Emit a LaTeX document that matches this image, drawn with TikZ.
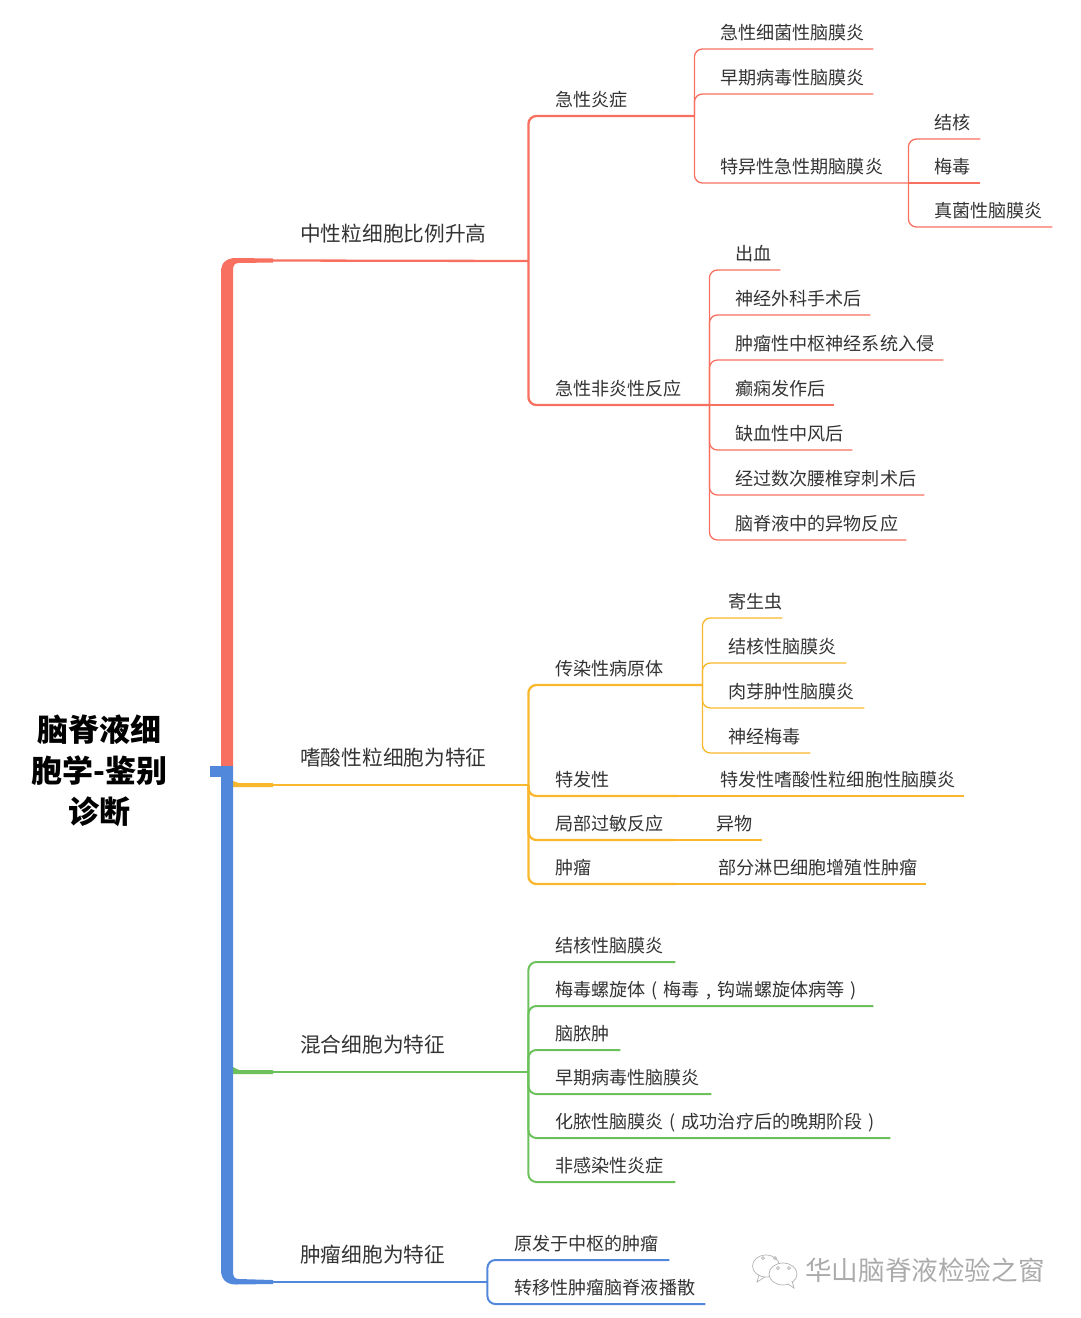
\documentclass[tikz,border=0pt]{standalone}
\usepackage{fontspec}
\setmainfont{Noto Sans CJK SC}
\definecolor{ink}{HTML}{333333}
\definecolor{redbr}{HTML}{F8705F}
\definecolor{orangebr}{HTML}{F9B72E}
\definecolor{greenbr}{HTML}{6CC15C}
\definecolor{bluebr}{HTML}{5288DC}
\newcommand{\wide}[1]{\makebox[18pt]{#1}}
\tikzset{
  leaf/.style={anchor=south west,inner xsep=0pt,inner ysep=5pt,text height=14pt,text depth=4pt,text=ink,font=\fontsize{18.1}{18}\selectfont},
  head/.style={anchor=south west,inner xsep=0pt,inner ysep=14pt,text height=18pt,text depth=5pt,text=ink,font=\fontsize{20.7}{21}\selectfont},
  redline/.style={draw=redbr,line width=1.3pt,rounded corners=8pt},
  orangeline/.style={draw=orangebr,line width=1.3pt,rounded corners=8pt},
  greenline/.style={draw=greenbr,line width=2pt,rounded corners=8pt},
  blueline/.style={draw=bluebr,line width=2pt,rounded corners=8pt},
  midline/.style={line width=2.3pt},
}
\begin{document}
\begin{tikzpicture}[x=1pt,y=-1pt]
\useasboundingbox (0,0) rectangle (1080,1318);
\draw (99.5,771) node[text=black,align=center,font=\fontsize{31}{41}\selectfont\bfseries] (root) {脑脊液细\\胞学-鉴别\\诊断};

\coordinate (redtip) at (273,260.5);
\coordinate (orangetip) at (273,785);
\coordinate (greentip) at (273,1072);
\coordinate (bluetip) at (273,1282);
\draw (300,261) node[head,text width=228pt] (neut) {中性粒细胞比例升高};
\draw (300,785) node[head,text width=228pt] (eos) {嗜酸性粒细胞为特征};
\draw (300,1072) node[head,text width=228pt] (mixed) {混合细胞为特征};
\draw (300,1282) node[head,text width=187pt] (tumor) {肿瘤细胞为特征};

\fill[orangebr] (233,781) -- (239,783) -- (273,783) -- (273,787) -- (233,787) -- cycle;
\fill[greenbr] (233,1067) -- (239,1070) -- (273,1070) -- (273,1074) -- (233,1074) -- cycle;
\fill[redbr] (221,771) -- (221,272) .. controls (221,263) and (226,258) .. (236,258) -- (273,258.5) -- (273,262.5) -- (239,263) .. controls (235,263) and (233,265) .. (233,270) -- (233,771) -- cycle;
\fill[bluebr] (221,771) -- (221,1270) .. controls (221,1279) and (226,1284.5) .. (236,1284.5) -- (273,1284) -- (273,1280) -- (239,1279) .. controls (235,1279) and (233,1277) .. (233,1272) -- (233,771) -- cycle;
\fill[bluebr] (209.5,766) rectangle (233,777);

\draw (555,116) node[leaf,text width=139pt] (acute) {急性炎症};
\draw (555,405) node[leaf,text width=154pt] (nonacute) {急性非炎性反应};
\draw[redline,midline] (redtip) -- (neut.south east);
\draw[redline,midline] (neut.south east) |- (acute.south east);
\draw[redline,midline] (neut.south east) |- (nonacute.south east);

\draw (720,49) node[leaf,text width=153pt] (bact) {急性细菌性脑膜炎};
\draw (720,94) node[leaf,text width=153pt] (viral) {早期病毒性脑膜炎};
\draw (720,183) node[leaf,text width=188pt] (spec) {特异性急性期脑膜炎};
\draw[redline] (acute.south east) |- (bact.south east);
\draw[redline] (acute.south east) |- (viral.south east);
\draw[redline] (acute.south east) |- (spec.south east);

\draw (934,139) node[leaf,text width=46pt] (tb) {结核};
\draw (934,183) node[leaf,text width=46pt] (syph) {梅毒};
\draw (934,227) node[leaf,text width=118pt] (fungal) {真菌性脑膜炎};
\draw[redline] (spec.south east) |- (tb.south east);
\draw[redline] (spec.south east) -- (syph.south east);
\draw[redline] (spec.south east) |- (fungal.south east);

\draw (735,270) node[leaf,text width=45pt] (bleed) {出血};
\draw (735,315) node[leaf,text width=135pt] (surg) {神经外科手术后};
\draw (735,360) node[leaf,text width=208pt] (invade) {肿瘤性中枢神经系统入侵};
\draw (735,405) node[leaf,text width=99pt] (epil) {癫痫发作后};
\draw (735,450) node[leaf,text width=117pt] (stroke) {缺血性中风后};
\draw (735,495) node[leaf,text width=189pt] (lumb) {经过数次腰椎穿刺术后};
\draw (735,540) node[leaf,text width=171pt] (foreign) {脑脊液中的异物反应};
\draw[redline] (nonacute.south east) |- (bleed.south east);
\draw[redline] (nonacute.south east) |- (surg.south east);
\draw[redline] (nonacute.south east) |- (invade.south east);
\draw[redline] (nonacute.south east) -- (epil.south east);
\draw[redline] (nonacute.south east) |- (stroke.south east);
\draw[redline] (nonacute.south east) |- (lumb.south east);
\draw[redline] (nonacute.south east) |- (foreign.south east);

\draw (555,685) node[leaf,text width=147pt] (pathogen) {传染性病原体};
\draw (555,796) node[leaf,text width=123pt] (idio) {特发性};
\draw (555,840) node[leaf,text width=119pt] (allergy) {局部过敏反应};
\draw (555,884) node[leaf,text width=121pt] (tumo) {肿瘤};
\draw[orangeline,midline] (orangetip) -- (eos.south east);
\draw[orangeline,midline] (eos.south east) |- (pathogen.south east);
\draw[orangeline,midline] (eos.south east) |- (idio.south east);
\draw[orangeline,midline] (eos.south east) |- (allergy.south east);
\draw[orangeline,midline] (eos.south east) |- (tumo.south east);

\draw (728,618) node[leaf,text width=54pt] (parasite) {寄生虫};
\draw (728,663) node[leaf,text width=118pt] (tbm) {结核性脑膜炎};
\draw (728,708) node[leaf,text width=136pt] (granul) {肉芽肿性脑膜炎};
\draw (728,753) node[leaf,text width=82pt] (neuro) {神经梅毒};
\draw[orangeline] (pathogen.south east) |- (parasite.south east);
\draw[orangeline] (pathogen.south east) |- (tbm.south east);
\draw[orangeline] (pathogen.south east) |- (granul.south east);
\draw[orangeline] (pathogen.south east) |- (neuro.south east);

\draw (720,796) node[leaf,text width=244pt] (idiom) {特发性嗜酸性粒细胞性脑膜炎};
\draw (716,840) node[leaf,text width=46pt] (obj) {异物};
\draw (718,884) node[leaf,text width=208pt] (lymph) {部分淋巴细胞增殖性肿瘤};
\draw[orangeline] (idio.south east) -- (idiom.south east);
\draw[orangeline] (allergy.south east) -- (obj.south east);
\draw[orangeline] (tumo.south east) -- (lymph.south east);

\draw (555,962) node[leaf,text width=120pt] (gtb) {结核性脑膜炎};
\draw (555,1006) node[leaf,text width=318pt] (gsyph) {梅毒螺旋体\wide{(}梅毒\wide{,}钩端螺旋体病等\wide{)}};
\draw (555,1050) node[leaf,text width=65pt] (abscess) {脑脓肿};
\draw (555,1094) node[leaf,text width=156pt] (gviral) {早期病毒性脑膜炎};
\draw (555,1138) node[leaf,text width=335pt] (pyo) {化脓性脑膜炎\wide{(}成功治疗后的晚期阶段\wide{)}};
\draw (555,1182) node[leaf,text width=120pt] (noninf) {非感染性炎症};
\draw[greenline] (greentip) -- (mixed.south east);
\draw[greenline] (mixed.south east) |- (gtb.south east);
\draw[greenline] (mixed.south east) |- (gsyph.south east);
\draw[greenline] (mixed.south east) |- (abscess.south east);
\draw[greenline] (mixed.south east) |- (gviral.south east);
\draw[greenline] (mixed.south east) |- (pyo.south east);
\draw[greenline] (mixed.south east) |- (noninf.south east);

\draw (514,1260) node[leaf,text width=155pt] (cns) {原发于中枢的肿瘤};
\draw (514,1304) node[leaf,text width=191pt] (meta) {转移性肿瘤脑脊液播散};
\draw[blueline] (bluetip) -- (tumor.south east);
\draw[blueline] (tumor.south east) |- (cns.south east);
\draw[blueline] (tumor.south east) |- (meta.south east);

\draw (805,1270) node[anchor=west,inner sep=0pt,text=black!33,font=\fontsize{26.6}{27}\selectfont] (mark) {华山脑脊液检验之窗};
\draw[black!30,line width=0.7pt] (766,1266) ellipse (13.5pt and 11pt);
\draw[black!30,line width=0.7pt] (759,1275) -- (757,1282) -- (765,1277);
\draw[black!30,line width=0.7pt] (763,1258) circle (1.5pt) (775,1258) circle (1.5pt);
\draw[black!30,line width=0.7pt,fill=white] (783,1274) ellipse (14pt and 11pt);
\draw[black!30,line width=0.7pt,fill=white] (788,1284) -- (794,1288) -- (792,1281);
\draw[black!30,line width=0.7pt] (778,1268) circle (1.5pt) (789,1268) circle (1.5pt);
\end{tikzpicture}
\end{document}
